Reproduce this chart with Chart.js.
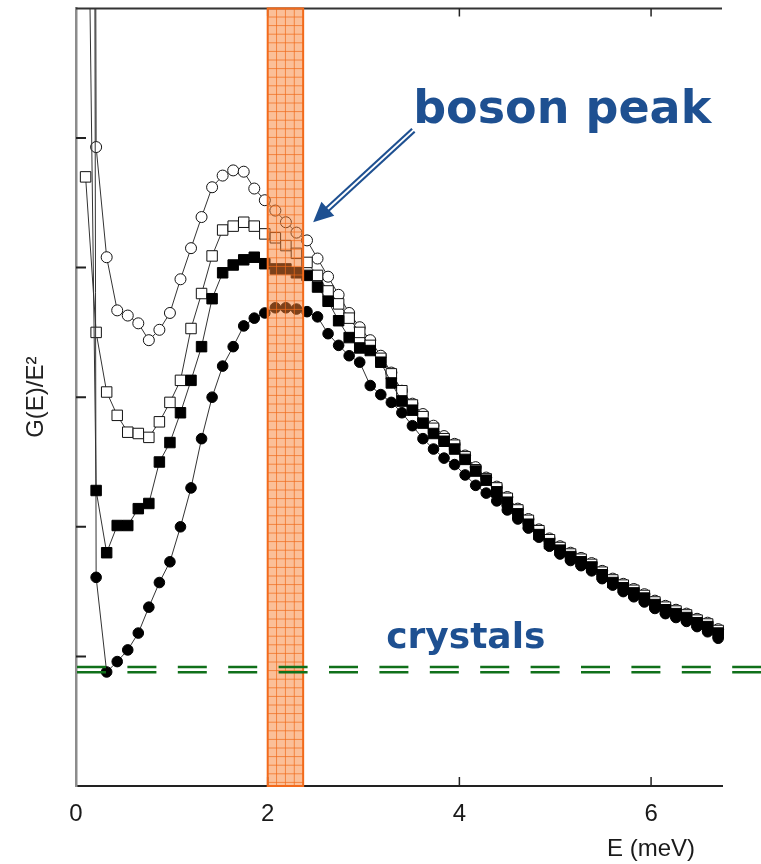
<!DOCTYPE html>
<html>
<head>
<meta charset="utf-8">
<script src="https://cdn.jsdelivr.net/npm/chart.js@4.4.1/dist/chart.umd.min.js"></script>
<style>
html, body { margin: 0; padding: 0; background: #fff; }
</style>
</head>
<body>
<canvas id="myChart" width="761" height="864"></canvas>
<script>
// energy grid (meV), shared by the four samples
var energy = [0.10, 0.21, 0.32, 0.43, 0.54, 0.65, 0.76, 0.87, 0.98, 1.09,
  1.20, 1.31, 1.42, 1.53, 1.64, 1.75, 1.86, 1.97, 2.08, 2.19,
  2.30, 2.41, 2.52, 2.63, 2.74, 2.85, 2.96, 3.07, 3.18, 3.29,
  3.40, 3.51, 3.62, 3.73, 3.84, 3.95, 4.06, 4.17, 4.28, 4.39,
  4.50, 4.61, 4.72, 4.83, 4.94, 5.05, 5.16, 5.27, 5.38, 5.49,
  5.60, 5.71, 5.82, 5.93, 6.04, 6.15, 6.26, 6.37, 6.48, 6.59, 6.70]

var filledSquares = [8.7, 2.28, 1.80, 2.01, 2.01, 2.14, 2.18, 2.50, 2.65, 2.88,
  3.13, 3.39, 3.76, 3.96, 4.02, 4.06, 4.08, 4.03, 3.99, 3.99,
  3.96, 3.94, 3.85, 3.74, 3.59, 3.46, 3.38, 3.36, 3.27, 3.11,
  2.97, 2.90, 2.80, 2.72, 2.66, 2.60, 2.52, 2.43, 2.36, 2.27,
  2.19, 2.10, 2.02, 1.94, 1.87, 1.82, 1.77, 1.73, 1.69, 1.63,
  1.57, 1.53, 1.49, 1.45, 1.40, 1.36, 1.33, 1.30, 1.26, 1.23, 1.18]

var filledCircles = [40, 1.61, 0.88, 0.96, 1.05, 1.18, 1.38, 1.57, 1.73, 2.00,
  2.30, 2.68, 3.00, 3.24, 3.39, 3.55, 3.61, 3.65, 3.69, 3.69,
  3.68, 3.66, 3.62, 3.49, 3.40, 3.32, 3.27, 3.09, 3.02, 2.96,
  2.88, 2.78, 2.68, 2.60, 2.53, 2.48, 2.40, 2.32, 2.26, 2.20,
  2.13, 2.06, 1.99, 1.92, 1.85, 1.79, 1.74, 1.70, 1.66, 1.60,
  1.55, 1.50, 1.46, 1.42, 1.37, 1.33, 1.30, 1.27, 1.23, 1.19, 1.14]

var openSquares = [4.70, 3.50, 3.04, 2.86, 2.73, 2.72, 2.69, 2.81, 2.96, 3.13,
  3.53, 3.80, 4.09, 4.29, 4.32, 4.35, 4.32, 4.26, 4.23, 4.17,
  4.11, 4.04, 3.94, 3.82, 3.72, 3.61, 3.50, 3.40, 3.30, 3.18,
  3.05, 2.94, 2.85, 2.76, 2.68, 2.63, 2.54, 2.44, 2.37, 2.30,
  2.22, 2.13, 2.05, 1.97, 1.90, 1.84, 1.79, 1.75, 1.71, 1.65,
  1.59, 1.55, 1.51, 1.47, 1.42, 1.38, 1.35, 1.32, 1.28, 1.25, 1.20]

var openCircles = [40, 4.93, 4.08, 3.67, 3.63, 3.57, 3.44, 3.52, 3.65, 3.91,
  4.15, 4.39, 4.62, 4.71, 4.75, 4.74, 4.61, 4.52, 4.44, 4.35,
  4.27, 4.21, 4.07, 3.93, 3.79, 3.65, 3.54, 3.44, 3.32, 3.19,
  3.05, 2.95, 2.87, 2.78, 2.70, 2.64, 2.55, 2.46, 2.38, 2.31,
  2.23, 2.14, 2.06, 1.98, 1.91, 1.85, 1.80, 1.76, 1.72, 1.66,
  1.60, 1.56, 1.52, 1.48, 1.43, 1.39, 1.36, 1.33, 1.29, 1.26, 1.21]

var xTicks = [2, 4, 6]
var yTicks = [1, 2, 3, 4, 5]
var bosonBand = [2.0, 2.37]
var crystalLevel = 0.898

var blue = '#1e5091'

function pts(vals) {
  return energy.map(function (e, i) { return {x: e, y: vals[i]} })
}

var overlay = {
  id: 'overlay',
  afterDatasetsDraw: function (chart) {
    var ctx = chart.ctx, a = chart.chartArea, x = chart.scales.x, y = chart.scales.y
    ctx.save()
    // top frame
    ctx.strokeStyle = '#333'
    ctx.lineWidth = 2
    ctx.beginPath()
    ctx.moveTo(a.left, a.top); ctx.lineTo(a.right, a.top)
    ctx.stroke()
    // inward tick marks
    ctx.strokeStyle = '#222'
    ctx.beginPath()
    yTicks.forEach(function (v) {
      var py = y.getPixelForValue(v)
      ctx.moveTo(a.left, py); ctx.lineTo(a.left + 10, py)
    })
    ctx.lineWidth = 2
    ctx.stroke()
    ctx.beginPath()
    xTicks.forEach(function (v) {
      var px = x.getPixelForValue(v)
      ctx.moveTo(px, a.bottom); ctx.lineTo(px, a.bottom - 9)
      ctx.moveTo(px, a.top); ctx.lineTo(px, a.top + 8)
    })
    ctx.lineWidth = 1.5
    ctx.stroke()

    // boson peak band
    var b0 = x.getPixelForValue(bosonBand[0]), b1 = x.getPixelForValue(bosonBand[1])
    ctx.fillStyle = 'rgba(247,128,50,0.5)'
    ctx.fillRect(b0, a.top, b1 - b0, a.bottom - a.top)
    ctx.beginPath()
    var step = (b1 - b0) / 4
    for (var gx = b0 + step; gx < b1 - 1; gx += step) { ctx.moveTo(gx, a.top); ctx.lineTo(gx, a.bottom) }
    for (var gy = a.top + 8.6; gy < a.bottom; gy += 8.6) { ctx.moveTo(b0, gy); ctx.lineTo(b1, gy) }
    ctx.strokeStyle = 'rgba(240,105,25,0.7)'
    ctx.lineWidth = 1
    ctx.stroke()
    ctx.strokeStyle = '#f26a1b'
    ctx.lineWidth = 2
    ctx.strokeRect(b0, a.top, b1 - b0, a.bottom - a.top)

    // crystals level, double dashed
    var cy = y.getPixelForValue(crystalLevel)
    ctx.setLineDash([29, 21.4])
    ctx.strokeStyle = '#10701a'
    ctx.lineWidth = 2.6
    ;[-2.6, 2.6].forEach(function (d) {
      ctx.beginPath()
      ctx.moveTo(a.left + 1, cy + d); ctx.lineTo(chart.width, cy + d)
      ctx.stroke()
    })
    ctx.restore()
  },
  afterDraw: function (chart) {
    var ctx = chart.ctx, x = chart.scales.x, y = chart.scales.y
    ctx.save()
    // x axis title
    ctx.fillStyle = '#1a1a1a'
    ctx.font = '24px "Liberation Sans", Arial, sans-serif'
    ctx.textAlign = 'center'
    ctx.textBaseline = 'middle'
    ctx.fillText('E (meV)', x.getPixelForValue(6), 849)

    // annotations
    ctx.fillStyle = blue
    ctx.textAlign = 'left'
    ctx.textBaseline = 'alphabetic'
    ctx.font = 'bold 46px "DejaVu Sans", sans-serif'
    ctx.fillText('boson peak', x.getPixelForValue(3.518), y.getPixelForValue(5.112))
    ctx.font = 'bold 36px "DejaVu Sans", sans-serif'
    ctx.fillText('crystals', x.getPixelForValue(3.236), y.getPixelForValue(1.064))

    // arrow
    var tx = x.getPixelForValue(3.52), ty = y.getPixelForValue(5.06)
    var hx = x.getPixelForValue(2.474), hy = y.getPixelForValue(4.349)
    var dx = hx - tx, dy = hy - ty, len = Math.sqrt(dx * dx + dy * dy)
    var ux = dx / len, uy = dy / len
    var bx = hx - ux * 20, by = hy - uy * 20
    ctx.lineCap = 'butt'
    ctx.strokeStyle = blue
    ctx.lineWidth = 6
    ctx.beginPath(); ctx.moveTo(tx, ty); ctx.lineTo(bx + ux * 2, by + uy * 2); ctx.stroke()
    ctx.strokeStyle = '#fff'
    ctx.lineWidth = 2
    ctx.beginPath(); ctx.moveTo(tx - ux * 2, ty - uy * 2); ctx.lineTo(bx + ux * 2, by + uy * 2); ctx.stroke()
    ctx.fillStyle = blue
    ctx.beginPath()
    ctx.moveTo(hx, hy)
    ctx.lineTo(bx - uy * 9.5, by + ux * 9.5)
    ctx.lineTo(bx + uy * 9.5, by - ux * 9.5)
    ctx.closePath()
    ctx.fill()
    ctx.restore()
  }
}

var ds = [
  {data: pts(filledSquares), pointStyle: 'rect', pointRadius: 7.4, pointBackgroundColor: '#000', pointBorderColor: '#000'},
  {data: pts(filledCircles), pointStyle: 'circle', pointRadius: 5.3, pointBackgroundColor: '#000', pointBorderColor: '#000'},
  {data: pts(openSquares), pointStyle: 'rect', pointRadius: 7.4, pointBackgroundColor: '#fff', pointBorderColor: '#111'},
  {data: pts(openCircles), pointStyle: 'circle', pointRadius: 5.5, pointBackgroundColor: '#fff', pointBorderColor: '#111'}
]
ds.forEach(function (d) {
  d.borderColor = '#333'
  d.borderWidth = 1
  d.pointBorderWidth = 1
  d.tension = 0
  d.fill = false
  d.clip = {left: 0, top: 0, right: 4, bottom: 0}
})

var myChart = new Chart(document.getElementById('myChart').getContext('2d'), {
  type: 'line',
  data: {datasets: ds},
  options: {
    responsive: false,
    animation: false,
    devicePixelRatio: 1,
    layout: {padding: {top: 7, right: 39, left: 0, bottom: 0}},
    plugins: {legend: {display: false}, tooltip: {enabled: false}},
    scales: {
      x: {
        type: 'linear', min: 0, max: 6.74,
        grid: {display: false},
        border: {display: true, color: '#222', width: 2},
        ticks: {stepSize: 2, includeBounds: false, padding: 6, maxRotation: 0, color: '#1a1a1a',
          font: {family: '"Liberation Sans", Arial, sans-serif', size: 24}},
        afterFit: function (s) { s.height = 78 }
      },
      y: {
        min: 0, max: 6,
        grid: {display: false},
        border: {display: true, color: '#8c8c8c', width: 2.5},
        ticks: {display: false},
        title: {display: true, text: 'G(E)/E²', color: '#222', padding: {top: 22, bottom: 0},
          font: {family: '"Liberation Sans", Arial, sans-serif', size: 24}},
        afterFit: function (s) { s.width = 76 }
      }
    }
  },
  plugins: [overlay]
})
</script>
</body>
</html>
